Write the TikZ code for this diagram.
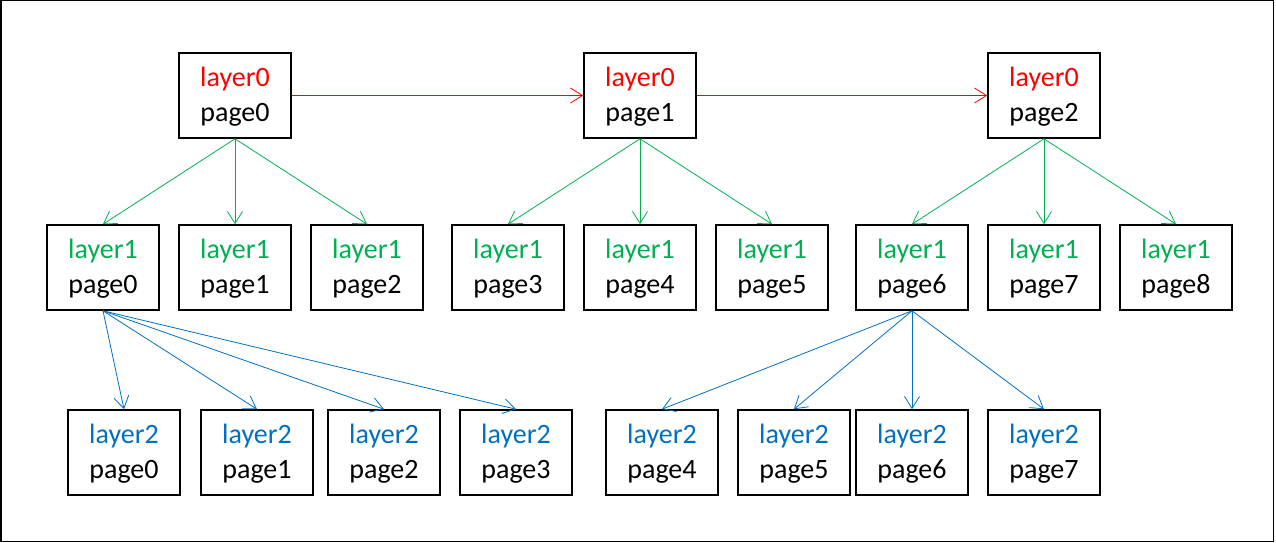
\documentclass[tikz,border=0pt]{standalone}
\usepackage{fontspec}
\setmainfont{Carlito}
\usetikzlibrary{arrows.meta}
\definecolor{lred}{RGB}{255,0,0}
\definecolor{lgreen}{RGB}{0,176,80}
\definecolor{lblue}{RGB}{0,112,192}
\begin{document}
\begin{tikzpicture}[x=1pt,y=-1pt,
  pagebox/.style={draw=black,line width=1.6pt,minimum width=112pt,minimum height=85pt,inner sep=0pt,align=center,text depth=3pt,font=\fontsize{28}{35}\selectfont},
  conn/.style={line width=0.8pt,-{Straight Barb[length=12pt,width=15pt,line width=0.8pt]}}]
\useasboundingbox (0,0) rectangle (1276,543);
\draw[line width=1.5pt] (0.75,0.75) rectangle (1273.5,541.5);
% layer 0
\foreach \n/\x in {0/235,1/640,2/1044}
  \node[pagebox] (a\n) at (\x,95.5) {\textcolor{lred}{layer0}\\page\n};
% layer 1
\foreach \n/\x in {0/103,1/235,2/367,3/508,4/640,5/772,6/912,7/1044,8/1176}
  \node[pagebox] (b\n) at (\x,267.5) {\textcolor{lgreen}{layer1}\\page\n};
% layer 2
\foreach \n/\x in {0/124,1/257,2/384,3/516,4/662,5/794,6/912,7/1044}
  \node[pagebox] (c\n) at (\x,452.5) {\textcolor{lblue}{layer2}\\page\n};
% red
\draw[conn,lred] (a0.east) -- (a1.west);
\draw[conn,lred] (a1.east) -- (a2.west);
% green
\foreach \s/\t in {a0/b0,a0/b1,a0/b2,a1/b3,a1/b4,a1/b5,a2/b6,a2/b7,a2/b8}
  \draw[conn,lgreen] (\s.south) -- (\t.north);
% blue
\foreach \s/\t in {b0/c0,b0/c1,b0/c2,b0/c3,b6/c4,b6/c5,b6/c6,b6/c7}
  \draw[conn,lblue] (\s.south) -- (\t.north);
\end{tikzpicture}
\end{document}
